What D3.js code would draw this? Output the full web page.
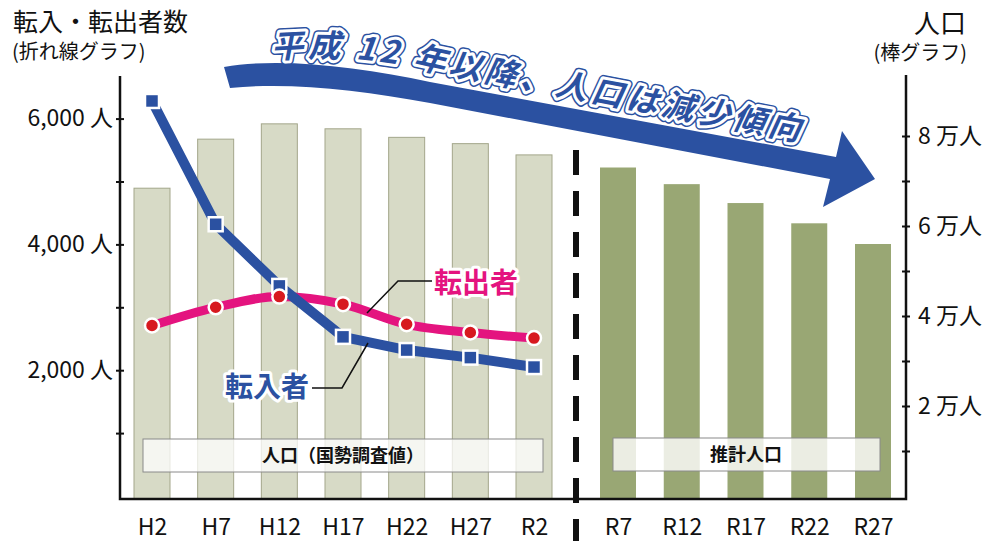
<!DOCTYPE html>
<html>
<head>
<meta charset="utf-8">
<script src="https://cdn.jsdelivr.net/npm/d3@7"></script>
<style>
  body { margin: 0; background: #fff; }
  svg { display: block; font-family: "Noto Sans CJK JP", "Noto Sans", sans-serif; }
</style>
</head>
<body>
<svg id="chart" width="1000" height="541"></svg>
<script>
// census years (bars + lines) and projected years (bars only)
const censusYears = ['H2', 'H7', 'H12', 'H17', 'H22', 'H27', 'R2'];
const projYears = ['R7', 'R12', 'R17', 'R22', 'R27'];

// population (people)
const censusPop = [68400, 79300, 82700, 81600, 79700, 78300, 75800];
const projPop = [73000, 69300, 65100, 60600, 56000];

// movers (people)
const inflow = [6280, 4320, 3340, 2530, 2320, 2200, 2050];   // 転入者
const outflow = [2710, 3000, 3170, 3050, 2730, 2600, 2510];  // 転出者

const leftTicks = [1000, 2000, 3000, 4000, 5000, 6000];
const rightTicks = [10000, 20000, 30000, 40000, 50000, 60000, 70000, 80000];

const BLUE = '#2b51a1', PINK = '#e4147f', RED = '#d7191f';
const BW = 36;

const svg = d3.select('#chart');

const yL = d3.scaleLinear().domain([0, 6677]).range([496, 76]);
const yR = d3.scaleLinear().domain([0, 93333]).range([496, 76]);
const xC = d3.scalePoint().domain(censusYears).range([152, 534]);
const xP = d3.scalePoint().domain(projYears).range([618, 873]);

const plotL = 120, plotR = 906, plotB = 499, plotT = 75;

// titles
svg.append('text').attr('x', 13).attr('y', 31).attr('font-size', 25).attr('fill', '#111')
    .text('転入・転出者数');
svg.append('text').attr('x', 12).attr('y', 59).attr('font-size', 20).attr('fill', '#111')
    .text('(折れ線グラフ)');
svg.append('text').attr('x', 966).attr('y', 33).attr('font-size', 26).attr('fill', '#111')
    .attr('text-anchor', 'end').text('人口');
svg.append('text').attr('x', 967).attr('y', 60).attr('font-size', 20).attr('fill', '#111')
    .attr('text-anchor', 'end').text('(棒グラフ)');

// bars
const censusData = censusYears.map((k, i) => ({ k, v: censusPop[i] }));
const projData = projYears.map((k, i) => ({ k, v: projPop[i] }));

svg.append('g').selectAll('rect').data(censusData).join('rect')
    .attr('x', d => xC(d.k) - BW / 2)
    .attr('y', d => yR(d.v))
    .attr('width', BW)
    .attr('height', d => plotB - yR(d.v))
    .attr('fill', '#d7dac6')
    .attr('stroke', '#a3a68a')
    .attr('stroke-width', 1);

svg.append('g').selectAll('rect').data(projData).join('rect')
    .attr('x', d => xP(d.k) - BW / 2)
    .attr('y', d => yR(d.v))
    .attr('width', BW)
    .attr('height', d => plotB - yR(d.v))
    .attr('fill', '#99a774');

// legend boxes over the bars
svg.append('rect').attr('x', 143).attr('y', 439).attr('width', 400).attr('height', 33)
    .attr('fill', '#fff').attr('fill-opacity', 0.75).attr('stroke', '#8a8a8a');
svg.append('text').attr('x', 343).attr('y', 456).attr('dy', '0.35em')
    .attr('text-anchor', 'middle').attr('font-size', 18).attr('font-weight', 'bold')
    .attr('fill', '#111').text('人口（国勢調査値）');
svg.append('rect').attr('x', 613).attr('y', 438).attr('width', 267).attr('height', 33)
    .attr('fill', '#fff').attr('fill-opacity', 0.8).attr('stroke', '#8a8a8a');
svg.append('text').attr('x', 746).attr('y', 455).attr('dy', '0.35em')
    .attr('text-anchor', 'middle').attr('font-size', 18).attr('font-weight', 'bold')
    .attr('fill', '#111').text('推計人口');

// divider between census and projection
const divX = (xC('R2') + xP('R7')) / 2;
svg.append('line').attr('x1', divX).attr('x2', divX).attr('y1', 150).attr('y2', 541)
    .attr('stroke', '#111').attr('stroke-width', 6).attr('stroke-dasharray', '25,16');

// frame
svg.append('path')
    .attr('d', `M${plotL},${plotT + 1}V${plotB}H${plotR}V${plotT}`)
    .attr('fill', 'none').attr('stroke', '#111').attr('stroke-width', 2.5);

// axes
const axL = svg.append('g').attr('transform', `translate(${plotL},0)`)
    .call(d3.axisLeft(yL).tickValues(leftTicks).tickSize(0).tickPadding(7)
        .tickFormat(d => d % 2000 === 0 ? d3.format(',')(d) + ' 人' : ''));
const axR = svg.append('g').attr('transform', `translate(${plotR},0)`)
    .call(d3.axisRight(yR).tickValues(rightTicks).tickSize(0).tickPadding(12)
        .tickFormat(d => d % 20000 === 0 ? (d / 10000) + ' 万人' : ''));
[axL, axR].forEach(g => {
    g.select('.domain').remove();
    g.selectAll('.tick line').attr('x1', -4).attr('x2', 4).attr('stroke', '#111').attr('stroke-width', 2);
    g.selectAll('.tick text').attr('font-size', 23).attr('fill', '#111')
        .attr('font-family', '"Noto Sans CJK JP", "Noto Sans", sans-serif');
});

[xC, xP].forEach(sc => {
    const g = svg.append('g').attr('transform', 'translate(0,527)')
        .call(d3.axisBottom(sc).tickSize(0));
    g.select('.domain').remove();
    g.selectAll('.tick text').attr('y', 0).attr('dy', '0.35em').attr('font-size', 23)
        .attr('fill', '#111').attr('font-family', '"Noto Sans CJK JP", "Noto Sans", sans-serif');
});

// lines
const inData = censusYears.map((k, i) => ({ k, v: inflow[i] }));
const outData = censusYears.map((k, i) => ({ k, v: outflow[i] }));

svg.append('path').datum(outData)
    .attr('d', d3.line().x(d => xC(d.k)).y(d => yL(d.v)).curve(d3.curveMonotoneX))
    .attr('fill', 'none').attr('stroke', PINK).attr('stroke-width', 9)
    .attr('stroke-linejoin', 'round');

svg.append('path').datum(inData)
    .attr('d', d3.line().x(d => xC(d.k)).y(d => yL(d.v)))
    .attr('fill', 'none').attr('stroke', BLUE).attr('stroke-width', 10)
    .attr('stroke-linejoin', 'round');

svg.append('g').selectAll('rect').data(inData).join('rect')
    .attr('x', d => xC(d.k) - 7).attr('y', d => yL(d.v) - 7)
    .attr('width', 14).attr('height', 14)
    .attr('fill', BLUE).attr('stroke', '#fff').attr('stroke-width', 2.5);

svg.append('g').selectAll('circle').data(outData).join('circle')
    .attr('cx', d => xC(d.k)).attr('cy', d => yL(d.v)).attr('r', 7)
    .attr('fill', RED).attr('stroke', '#fff').attr('stroke-width', 2.5);

// series labels with leader lines
svg.append('path').attr('d', 'M432,281H398L367,313')
    .attr('fill', 'none').attr('stroke', '#111').attr('stroke-width', 1.5);
svg.append('path').attr('d', 'M312,388H342L368,343')
    .attr('fill', 'none').attr('stroke', '#111').attr('stroke-width', 1.5);

function haloText(x, y, txt, color) {
    svg.append('text').attr('x', x).attr('y', y).attr('dy', '0.35em')
        .attr('text-anchor', 'middle').attr('font-size', 28).attr('font-weight', 'bold')
        .attr('fill', color).attr('stroke', '#fff').attr('stroke-width', 6)
        .attr('stroke-linejoin', 'round').attr('paint-order', 'stroke').text(txt);
}
haloText(476, 283, '転出者', PINK);
haloText(267, 387, '転入者', BLUE);

// big trend arrow
svg.append('path')
    .attr('d', 'M224,67C280,57 360,67 430,82L836,157L842,131L875,179L823,207L830,179L430,103C360,90 290,82 230,88Z')
    .attr('fill', BLUE);

svg.append('defs').append('path').attr('id', 'arcText')
    .attr('d', 'M262,60C320,52 390,61 440,73L820,145');

const msg = '平成 12 年以降、人口は減少傾向';
[{ s: BLUE, w: 9 }, { s: '#fff', w: 6 }, { s: BLUE, w: 0 }].forEach(l => {
    svg.append('text')
        .attr('font-size', 32).attr('font-weight', 'bold').attr('font-style', 'italic')
        .attr('fill', BLUE).attr('stroke', l.s).attr('stroke-width', l.w)
        .attr('stroke-linejoin', 'round')
        .append('textPath').attr('href', '#arcText').attr('startOffset', 10)
        .attr('textLength', 534).attr('lengthAdjust', 'spacing')
        .text(msg);
});
</script>
</body>
</html>
